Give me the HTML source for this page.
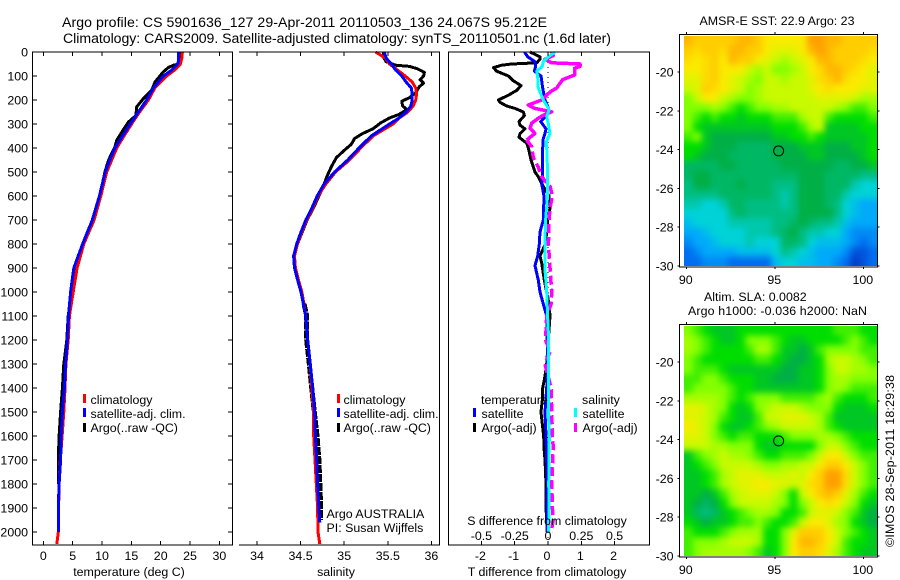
<!DOCTYPE html>
<html lang="en">
<head>
<meta charset="utf-8">
<title>Argo profile</title>
<style>
html,body{margin:0;padding:0;background:#fff;width:900px;height:580px;overflow:hidden}
svg{display:block}
text{font-family:"Liberation Sans",sans-serif;font-size:12.4px;fill:#000}
.frame{fill:none;stroke:#000;stroke-width:1.4;shape-rendering:crispEdges}
</style>
</head>
<body>
<svg id="chart" width="900" height="580" viewBox="0 0 900 580" xmlns="http://www.w3.org/2000/svg">
  <defs>
    <filter id="map-smooth" filterUnits="userSpaceOnUse" x="660" y="0" width="240" height="580" color-interpolation-filters="sRGB">
      <feGaussianBlur stdDeviation="3.2"/>
    </filter>
    <clipPath id="sst-clip"><rect x="684" y="36" width="193" height="230"/></clipPath>
    <clipPath id="sla-clip"><rect x="684" y="326" width="193" height="230"/></clipPath>
  </defs>
  <rect width="900" height="580" fill="#fff"/>
  <text x="62" y="27" textLength="485" style="font-size:14.1px">Argo profile: CS 5901636_127 29-Apr-2011 20110503_136 24.067S 95.212E</text>
  <text x="63" y="43" textLength="548" style="font-size:14.1px">Climatology: CARS2009. Satellite-adjusted climatology: synTS_20110501.nc (1.6d later)</text>
  <g id="maps"></g>
  <g id="marks"></g>
  <g id="axes"></g>

  <text x="129" y="576" text-anchor="middle">temperature (deg C)</text>
  <text x="336" y="576" text-anchor="middle">salinity</text>
  <text x="547" y="525" text-anchor="middle">S difference from climatology</text>
  <text x="547" y="576" text-anchor="middle">T difference from climatology</text>

  <g>
    <rect x="83" y="394" width="3" height="9" fill="#f00"/>
    <text x="90.5" y="404">climatology</text>
    <rect x="83" y="408" width="3" height="9" fill="#00f"/>
    <text x="90.5" y="418">satellite-adj. clim.</text>
    <rect x="83" y="423" width="3" height="9" fill="#000"/>
    <text x="90.5" y="432">Argo(..raw -QC)</text>
  </g>
  <g>
    <rect x="337" y="394" width="3" height="9" fill="#f00"/>
    <text x="343.5" y="404">climatology</text>
    <rect x="337" y="408" width="3" height="9" fill="#00f"/>
    <text x="343.5" y="418">satellite-adj. clim.</text>
    <rect x="337" y="423" width="3" height="9" fill="#000"/>
    <text x="343.5" y="432">Argo(..raw -QC)</text>
  </g>
  <text x="326.5" y="518">Argo AUSTRALIA</text>
  <text x="326.5" y="532">PI: Susan Wijffels</text>

  <g>
    <text x="481" y="404">temperature</text>
    <rect x="473" y="408" width="3" height="9" fill="#00f"/>
    <text x="481.5" y="418">satellite</text>
    <rect x="473" y="423" width="3" height="9" fill="#000"/>
    <text x="481.5" y="432">Argo(-adj)</text>
    <text x="582" y="404">salinity</text>
    <rect x="574" y="408" width="3" height="9" fill="#0ff"/>
    <text x="582.5" y="418">satellite</text>
    <rect x="574" y="423" width="3" height="9" fill="#f0f"/>
    <text x="582.5" y="432">Argo(-adj)</text>
  </g>

  <text x="777" y="25" text-anchor="middle">AMSR-E SST: 22.9 Argo: 23</text>
  <text x="704" y="301">Altim. SLA: 0.0082</text>
  <text x="688" y="315" textLength="179">Argo h1000: -0.036 h2000: NaN</text>
  <text transform="translate(894,547) rotate(-90)" textLength="172">©IMOS 28-Sep-2011 18:29:38</text>
</svg>
<script>
// ---------- axis ticks ----------
const depthTicks = [0,100,200,300,400,500,600,700,800,900,1000,1100,1200,1300,1400,1500,1600,1700,1800,1900,2000];
const tempTicks = [0,5,10,15,20,25,30];
const salTicks = [34,34.5,35,35.5,36];
const salTickLabels = ['34','34.5','35','35.5','36'];
const tDiffTicks = [-2,-1,0,1,2];
const sDiffTicks = [-0.5,-0.25,0,0.25,0.5];
const sDiffTickLabels = ['-0.5','-0.25','0','0.25','0.5'];
const lonTicks = [90,95,100];
const latTicks = [-20,-22,-24,-26,-28,-30];

// ---------- temperature profiles (depth m, deg C) ----------
const tempClimDepth = [0,25,50,75,100,150,200,250,300,350,400,450,500,600,700,800,900,1000,1100,1200,1300,1400,1500,1600,1700,1800,1900,2000,2050];
const tempClim = [23.7,23.6,23.35,22.4,21,19,17.9,16.4,15.05,13.75,12.5,11.65,10.8,9.8,8.65,6.9,5.75,5.1,4.45,4.25,3.85,3.7,3.5,3.2,2.9,2.7,2.6,2.55,2.3];
const tempSatDepth = [0,25,40,50,75,100,150,200,250,300,350,400,450,500,600,700,800,900,1000,1100,1200,1300,1400,1500,1600,1700,1800,1900,2000];
const tempSat = [23.05,23.05,23,22.9,21.9,20.45,18.75,17.6,16.2,14.8,13.5,12.2,11.35,10.55,9.55,8.35,6.7,5.2,4.65,4.3,4.1,3.8,3.6,3.25,3.05,2.95,2.7,2.55,2.55];
const tempArgoDepth = [0,25,50,55,65,83,125,160,194,229,264,292,319,368,396,451,500,600,700,800,900,1000,1100,1200,1300,1400,1500,1600,1700,1800];
const tempArgo = [23.3,23.3,23.2,22.15,21.3,20.45,19.03,18.47,17.05,15.9,15.8,14.5,13.75,12.5,12.2,11.1,10.5,9.65,8.5,6.8,5.4,4.8,4.25,4,3.5,3.25,2.95,2.7,2.55,2.55];

// ---------- salinity profiles (depth m, psu) ----------
const salClimDepth = [0,25,50,75,100,125,150,175,200,225,250,275,300,350,400,450,500,550,600,650,700,750,800,850,900,950,1000,1100,1200,1300,1400,1500,1600,1700,1800,1900,2000,2050];
const salClim = [35.36,35.47,35.52,35.61,35.7,35.78,35.82,35.83,35.82,35.79,35.73,35.63,35.56,35.33,35.19,35.06,34.9,34.79,34.7,34.64,34.57,34.515,34.465,34.43,34.44,34.475,34.515,34.56,34.58,34.61,34.63,34.65,34.65,34.665,34.68,34.695,34.7,34.72];
const salSatDepth = [0,25,50,75,100,125,150,175,200,225,250,275,300,350,400,450,500,550,600,650,700,750,800,850,900,950,1000,1100,1200,1300,1400,1500,1600,1700,1800,1900,1960];
const salSat = [35.46,35.48,35.54,35.59,35.66,35.71,35.77,35.78,35.78,35.765,35.71,35.63,35.52,35.31,35.17,35.04,34.89,34.77,34.69,34.63,34.56,34.505,34.455,34.42,34.43,34.466,34.505,34.56,34.58,34.61,34.64,34.66,34.67,34.685,34.695,34.71,34.72];
const salArgoDepth = [0,25,40,55,60,70,85,100,115,130,145,170,190,205,225,240,260,275,295,320,340,360,385,410,440,480,520,560,600,640,700,750,800,850,900,950,1000,1050,1100,1200,1300,1400,1500,1600,1700,1800,1900,1950];
const salArgo = [35.45,35.455,35.48,35.59,35.75,35.84,35.92,35.91,35.87,35.91,35.86,35.82,35.75,35.66,35.67,35.72,35.63,35.52,35.42,35.33,35.21,35.12,35.08,35,34.91,34.85,34.8,34.76,34.71,34.66,34.575,34.52,34.465,34.43,34.44,34.47,34.51,34.54,34.57,34.57,34.6,34.627,34.657,34.688,34.71,34.72,34.73,34.73];

// ---------- difference profiles ----------
const tDiffArgoDepth = [0,20,30,45,50,55,65,80,100,120,140,160,180,200,210,225,235,250,265,290,305,320,340,355,380,400,450,500,520,560,600,650,700,750,800,850,880,950,1050,1100,1200,1300,1350,1400,1450,1500,1550,1600,1650,1700,1800,1900,1950];
const tDiffArgo = [-0.54,-0.24,-0.24,-0.34,-1.09,-1.39,-1.64,-1.54,-1.19,-1.04,-0.81,-0.94,-1.19,-1.49,-1.44,-1.24,-0.99,-0.74,-0.71,-0.87,-0.84,-0.69,-0.84,-0.87,-0.64,-0.59,-0.51,-0.39,-0.29,-0.14,0.03,0.06,-0.01,-0.04,-0.08,-0.24,-0.19,-0.11,0.03,0.06,0.01,-0.04,-0.09,-0.16,-0.17,-0.21,-0.17,-0.13,-0.12,-0.09,-0.06,-0.06,-0.04];
const tDiffSatDepth = [0,20,40,60,80,100,150,200,240,270,290,320,340,360,400,500,550,600,700,750,800,850,890,950,1000,1050,1100,1300,1400,1500,1600,1700,1800,1900,2000];
const tDiffSat = [-0.71,-0.61,-0.39,-0.37,-0.41,-0.21,-0.16,-0.09,0.03,-0.09,-0.22,-0.06,-0.09,-0.14,-0.16,-0.16,-0.19,-0.12,-0.14,-0.24,-0.26,-0.31,-0.39,-0.29,-0.24,-0.14,-0.04,-0.01,-0.04,-0.09,-0.06,-0.04,-0.02,-0.03,-0.03];
const sDiffSatDepth = [0,20,40,60,80,100,150,200,240,270,300,340,370,400,500,600,700,800,900,1000,1100,1200,1300,1400,1500,1600,1700,1800,1900,2000];
const sDiffSat = [0.053,0.003,-0.035,-0.043,-0.085,-0.078,-0.073,-0.035,0.008,-0.01,0.003,0.015,-0.01,-0.01,-0.003,-0.003,-0.018,-0.023,-0.023,-0.01,-0.003,0.005,0.003,0.003,0.003,0.01,0.008,0.005,0.008,0.003];
const sDiffArgoDepth = [0,15,30,45,50,60,68,96,115,130,150,165,179,200,215,221,235,249,262,276,297,318,339,367,394,440,480,520,560,600,650,700,800,900,1000,1050,1100,1200,1250,1300,1400,1500,1600,1650,1700,1800,1900,1950,2000];
const sDiffArgo = [0.028,0.04,-0.023,0.028,0.24,0.24,0.2,0.2,0.11,0.09,0.065,0.02,-0.01,-0.048,-0.12,-0.148,-0.1,0.028,-0.03,-0.073,-0.123,-0.135,-0.098,-0.16,-0.123,-0.11,-0.073,-0.048,0.015,0.033,0.015,0.008,0.003,0.015,0.028,0.023,-0.01,-0.018,0.015,-0.023,0.023,0.028,0.033,0.04,0.035,0.028,0.033,0.04,0.023];

// ---------- map fields (colour-scale level, north to south) ----------
const sstField = [
[10.5,10,10,10,10,10,10.5,10.5,10,9,9,9,9,9,11,11,10.5,10.5,10,10,10,10],
[10,9.5,10,10,9.5,10.5,10.5,10,10,9,8.5,8.5,8.5,9,10.5,11,10.5,10,10,10,10,9.5],
[9.5,9,9.5,10,9,10.5,10,10,9,8.5,8,7.5,8,8.5,9,10.5,10.5,10,10,10,9.5,9],
[9,9,9.5,10,9,9,9,8,7.5,8,7,7,7.5,8,9,9.5,10.5,10.5,10,9.5,9,8.5],
[8.5,8.5,9.5,10,9,8.5,8,7.5,7,8,8,7.5,8,8,8.5,9.5,10,10.5,9.5,9,9,8.5],
[8,8.5,10,9.5,9,8.5,8,7,7.5,8,8,8,8,8,8.5,9,9.5,9,9,9,8.5,8.5],
[7,8,9,9,8,7.5,7,7,7.5,8,8,8,8,8,8,8.5,8.5,8.5,8.5,8,7.5,7.5],
[7,7,7,7.5,7,6.5,6,6.5,7,7,7.5,7.5,8,8,8,8,8,7.5,7,6.5,6.5,7],
[7,6.5,6,6.5,6,6,5.5,6,6,6,6.5,6.5,6.5,7.5,8,8,6.5,6,6,6,6,6.5],
[7,6,5.5,5.5,5.5,5.5,5.5,5.5,5.5,5.5,6,6,6,6.5,7.5,8,5.5,5.5,5.5,5.5,6,6],
[6.5,7,5.5,5,5,5,5,5,5,5,5.5,5.5,6,6,6.5,6,5.5,5.5,5.5,5.5,5.5,6],
[6,6,5.5,5,5,5,4.5,4.5,4.5,4.5,5,5,5,5.5,5.5,5.5,5,5,5,5.5,5.5,6],
[6,5.5,5,5,5,4.5,4.5,4.5,4.5,4.5,5,5,5,5,5.5,5.5,5,5,5,5,5.5,6],
[4.5,4.5,4.5,4.5,5,5,4.5,4.5,4.5,4.5,4.5,5,5,5,5,5,5,4.5,4.5,5,5,5.5],
[4.5,5,5,4.5,4.5,4.5,4.5,4.5,4.5,4.5,4.5,4.5,4.5,5,5,5,4.5,4.5,4.5,4.5,4,4],
[4,5,5,4.5,4.5,4.5,5,4.5,4.5,4.5,4,4,4,5,5,5,4.5,4.5,4.5,3.5,3,3],
[4,4,4,4,4.5,4.5,4.5,4.5,4.5,4.5,4,3.5,4,5,5,5,4.5,4.5,3.5,3,3,3],
[3.5,3.5,3,3,3.5,4.5,4.5,4,4,4,4,3.5,4,5,5,5,4.5,4,3,2.5,2,2],
[3,3,3,3,3,4,4.5,4,4,4,4,4,4,5,5,5,5,4,3,2.5,2,2],
[2.5,3,3,3,3,3.5,3.5,3.5,3.5,3.5,4,4,4.5,5,4.5,4,4,3.5,2.5,2,2,2],
[2,2,2.5,3,3,3,3,3.5,3.5,3.5,4,4.5,5,4,3.5,3.5,3,3,2,1.5,1.5,1.5],
[1.5,2,2,2.5,3,3,3,3.5,3,3,3,4.5,4.5,4,3,2.5,2.5,2.5,2,1.5,1,1.5],
[1,1.5,2,2,2,2,2.5,2.5,2.5,2.5,3,4,3.5,3,2.5,2,2,2,1.5,0.5,0.5,1],
[1,1,1.5,1.5,1.5,1,1,1,1,1,2.5,3,3,2.5,2.5,2,2,1.5,1,0,0.5,1]
];
const slaField = [
[7,6.5,6,5.5,5.5,5.5,6,6,6,6,6,6,6,6,6,6,6,6.5,6.5,6.5,6,6],
[7.5,7,6.5,6,5.5,5.5,6,7,7,7,6.5,6,5.5,5.5,6,6,6,6,6.5,7,6.5,6],
[7.5,7,6.5,6,6,6,6,6.5,7.5,7.5,6.5,5.5,5.5,5,5.5,6.5,7,7,7,7,6.5,6.5],
[7,6.5,6,6,6,6,6,6,6.5,6.5,6,5.5,5,5,5.5,6,7.5,8,8,7.5,7,6.5],
[7,6.5,6.5,6.5,6,5.5,5.5,5.5,5.5,5.5,5.5,5,5,5.5,5.5,6,7,8,8,7.5,7.5,7],
[6.5,6.5,7,7,6.5,6,6,6,5.5,5.5,5,5,5,5.5,5.5,6,7,7.5,7.5,7,7,7],
[6.5,7,7,7,7,6.5,6,6,5.5,5.5,5.5,5.5,5.5,5.5,5.5,6,7,7.5,7,6.5,6.5,6.5],
[7.5,7.5,7.5,7.5,7,6.5,6,6.5,7,7,7,6.5,6.5,6.5,6.5,7,7.5,6.5,6,6,6,6.5],
[8.5,8.5,8,7.5,7,6,5.5,6,7,7.5,8,8,8,7.5,7,7,7,6,5.5,5.5,5.5,6],
[8.5,8.5,8,7.5,6.5,6,5.5,5.5,6.5,8,8,8.5,8.5,8.5,8,7.5,6.5,5.5,5.5,5.5,5.5,5.5],
[9,8.5,8,7,6,5.5,5.5,6,6.5,7,7.5,8,8,8,8,7.5,6.5,6,5.5,5.5,5.5,5.5],
[8.5,8.5,8,7,6.5,6,6.5,6.5,6,6,6,6.5,7,7,7,7.5,7.5,7,6.5,6,6,6],
[8,8,8,7.5,7.5,7,7,7,6,5.5,5.5,6,6,6,6,7,8,8,7,6.5,6,6],
[5.5,6.5,7,7.5,8,7.5,7.5,7,6.5,6,6,6.5,6.5,6.5,7,8,9,9,8,7,6.5,6.5],
[5.5,6,6.5,7,8,8,8,8,7.5,7,7,7.5,7.5,8,8,9,10,10,9,8,7,6.5],
[5.5,5.5,6,6.5,7.5,8,8.5,8.5,8.5,8,8,8,8.5,8,9,10,11,11,9.5,8,7,6.5],
[5.5,5.5,6,6.5,7.5,8,8.5,8.5,9,9,8.5,8.5,8,8.5,9.5,10,11,11,9.5,8,7,6.5],
[5.5,5.5,5,5.5,6.5,7.5,8,8.5,8.5,8.5,8,7,6,8,9,10,10.5,10,8.5,7.5,6.5,6],
[5.5,5,4.5,5,6,7,8,8,8,8,7.5,7,6,7,8,9,9.5,9,8,7,6,5.5],
[5.5,4.5,4,4.5,5.5,6,6.5,7,7.5,7.5,7,6,6,6.5,8,8.5,8.5,8,7,6.5,5.5,5],
[6,5.5,5,5.5,5.5,6,6.5,6.5,7,6.5,6,6,6.5,8,9,9,8.5,7.5,7,6,5.5,5],
[6.5,6,6,6,6.5,7,7.5,7.5,7.5,6,6,7,8.5,10,10,10,9,8,7,6.5,6,5.5],
[6.5,7,7,7,7.5,8,8,8,7.5,6,6,7,9,10.5,10.5,10,9,8,6.5,6,6,5.5],
[6.5,7,7.5,7.5,7.5,7.5,7.5,7,6.5,5.5,6,7,9,10,10,9.5,8.5,7.5,6.5,6,5.5,5.5]
];
const argoLon = 95.212;
const argoLat = -24.067;

// ---------- helpers ----------
const NS = 'http://www.w3.org/2000/svg';
const marks = document.getElementById('marks');
const axes = document.getElementById('axes');
const maps = document.getElementById('maps');
function make(tag, parent, attrs, content) {
  const el = document.createElementNS(NS, tag);
  for (const k in attrs) el.setAttribute(k, attrs[k]);
  if (content !== undefined) el.textContent = content;
  parent.appendChild(el);
  return el;
}
const yDepth = d => 52 + d * 0.24;
const xTemp = t => 43.3 + t * 5.87;
const xSal = s => 257 + (s - 34) * 87.2;
const xTDiff = t => 548 + t * 33.3;
const xSDiff = s => 548 + s * 133.2;

function profile(xFn, depth, vals, color, width, name, dash, minD, maxD) {
  const pts = [];
  for (let i = 0; i < depth.length; i++) {
    if (depth[i] < minD || depth[i] > maxD) continue;
    pts.push(xFn(vals[i]).toFixed(1) + ',' + yDepth(depth[i]).toFixed(1));
  }
  const el = make('polyline', marks, {
    points: pts.join(' '), fill: 'none', stroke: color, 'stroke-width': width,
    'stroke-linejoin': 'round', 'shape-rendering': 'crispEdges'
  });
  if (dash) el.setAttribute('stroke-dasharray', dash);
  
  
}

// temperature panel
profile(xTemp, tempArgoDepth, tempArgo, '#000', 3, 'temperature-argo-line', null, 0, 9999);
profile(xTemp, tempClimDepth, tempClim, '#f00', 3, 'temperature-climatology-line', null, 0, 9999);
profile(xTemp, tempSatDepth, tempSat, '#00f', 3, 'temperature-satellite-line', null, 0, 9999);
// salinity panel
profile(xSal, salArgoDepth, salArgo, '#000', 3, 'salinity-argo-line', null, 0, 1050);
profile(xSal, salArgoDepth, salArgo, '#000', 5, 'salinity-argo-line-deep', '8 1', 1050, 9999);
profile(xSal, salClimDepth, salClim, '#f00', 3, 'salinity-climatology-line', null, 0, 9999);
profile(xSal, salSatDepth, salSat, '#00f', 3, 'salinity-satellite-line', null, 0, 9999);
// difference panel
const zero = make('line', marks, {x1: xTDiff(0), x2: xTDiff(0), y1: 52, y2: 545, stroke: '#000', 'stroke-width': 1, 'stroke-dasharray': '1 4', 'shape-rendering': 'crispEdges'});


profile(xTDiff, tDiffArgoDepth, tDiffArgo, '#000', 3, 't-difference-argo-line', null, 0, 9999);
profile(xTDiff, tDiffSatDepth, tDiffSat, '#00f', 3, 't-difference-satellite-line', null, 0, 9999);
profile(xSDiff, sDiffArgoDepth, sDiffArgo, '#f0f', 3.5, 's-difference-argo-line', null, 0, 367);
profile(xSDiff, sDiffArgoDepth, sDiffArgo, '#f0f', 3.5, 's-difference-argo-line-deep', '9 4', 367, 9999);
profile(xSDiff, sDiffSatDepth, sDiffSat, '#0ff', 3, 's-difference-satellite-line', null, 0, 9999);

// panel frames
function frame(x1, x2, left, name) {
  const d = left ? `M${x1} 52V545H${x2}V52H${x1}Z` : `M${x1} 52H${x2}V545H${x1}`;
  const el = make('path', axes, {d: d, class: 'frame'});
  
  
}
frame(32.5, 232.5, true, 'temperature-panel-frame');
frame(239, 439.5, false, 'salinity-panel-frame');
frame(448.5, 649.5, true, 'difference-panel-frame');

function tick(x1, y1, x2, y2, name) {
  const el = make('line', axes, {x1: x1, y1: y1, x2: x2, y2: y2, stroke: '#000', 'stroke-width': 1, 'shape-rendering': 'crispEdges'});
  
  
}
function label(x, y, anchor, str, name) {
  const el = make('text', axes, {x: x, y: y, 'text-anchor': anchor}, str);
  
  
}

// depth axis
depthTicks.forEach(d => {
  const y = yDepth(d);
  tick(32.5, y, 37, y, 'depth-tick');
  tick(228, y, 232.5, y, 'depth-tick-right');
  label(28, y + 4.5, 'end', String(d), 'depth-tick-label');
});
// temperature axis
tempTicks.forEach(t => {
  const x = xTemp(t);
  tick(x, 52, x, 56, 'temperature-tick-top');
  tick(x, 541, x, 545, 'temperature-tick-bottom');
  label(x, 560, 'middle', String(t), 'temperature-tick-label');
});
// salinity axis
salTicks.forEach((s, i) => {
  const x = xSal(s);
  tick(x, 52, x, 56, 'salinity-tick-top');
  tick(x, 541, x, 545, 'salinity-tick-bottom');
  label(x, 560, 'middle', salTickLabels[i], 'salinity-tick-label');
});
// difference axes
tDiffTicks.forEach(t => {
  const x = xTDiff(t);
  tick(x, 52, x, 56, 'difference-tick-top');
  tick(x, 541, x, 545, 'difference-tick-bottom');
  label(x - 1, 560, 'middle', String(t), 't-difference-tick-label');
});
sDiffTicks.forEach((s, i) => {
  label(xSDiff(s), 540, 'middle', sDiffTickLabels[i], 's-difference-tick-label');
});

// ---------- maps ----------
const colourLevels = [[0,60,200],[0,110,240],[0,170,250],[0,210,215],[0,190,130],[0,175,70],[0,222,0],[130,255,0],[200,250,0],[250,235,0],[255,205,0],[255,160,0]];
function levelColour(v) {
  const i = Math.max(0, Math.min(colourLevels.length - 2, Math.floor(v)));
  const f = v - i;
  const c = colourLevels[i].map((a, k) => Math.round(a + (colourLevels[i + 1][k] - a) * f));
  return `rgb(${c[0]},${c[1]},${c[2]})`;
}
const lonMin = 89.87, lonMax = 100.77, latMax = -18.14, latMin = -30;
function drawMap(field, top, prefix, clipId) {
  const xLon = lon => 686.3 + (lon - 90) * 17.7;
  const yLat = lat => top + 38 + (-20 - lat) * 19.4;
  const rows = field.length, cols = field[0].length;
  const dLon = (lonMax - lonMin) / cols, dLat = (latMax - latMin) / rows;
  const clipGroup = make('g', maps, {'clip-path': 'url(#' + clipId + ')'});
  
  
  const blurGroup = make('g', clipGroup, {filter: 'url(#map-smooth)'});
  
  
  const bleed = 10;
  field.forEach((row, r) => row.forEach((v, c) => {
    let x0 = xLon(lonMin + c * dLon), y0 = yLat(latMax - r * dLat);
    let w = dLon * 17.7 + 0.4, h = dLat * 19.4 + 0.4;
    if (c === 0) { x0 -= bleed; w += bleed; }
    if (c === cols - 1) { w += bleed; }
    if (r === 0) { y0 -= bleed; h += bleed; }
    if (r === rows - 1) { h += bleed; }
    const cell = make('rect', blurGroup, {x: x0.toFixed(2), y: y0.toFixed(2), width: w.toFixed(2), height: h.toFixed(2), fill: levelColour(v), 'shape-rendering': 'crispEdges'});
    
    
  }));
  const box = make('rect', axes, {x: 679.5, y: top + 0.5, width: 198, height: 232.5, class: 'frame'});
  
  
  lonTicks.forEach(l => {
    const x = xLon(l);
    tick(x, top - 2, x, top, prefix + '-lon-tick-top');
    tick(x, top + 233, x, top + 235, prefix + '-lon-tick-bottom');
    label(x - 0.5, top + 250, 'middle', String(l), prefix + '-lon-tick-label');
  });
  latTicks.forEach(l => {
    const y = yLat(l);
    tick(677.5, y, 679.5, y, prefix + '-lat-tick-left');
    tick(877.5, y, 879.5, y, prefix + '-lat-tick-right');
    label(673.5, y + 4.5, 'end', String(l), prefix + '-lat-tick-label');
  });
  const ring = make('circle', axes, {cx: xLon(argoLon).toFixed(1), cy: yLat(argoLat).toFixed(1), r: 5, fill: 'none', stroke: '#000', 'stroke-width': 1});
  
  
}
drawMap(sstField, 34, 'sst-map', 'sst-clip');
drawMap(slaField, 324, 'sla-map', 'sla-clip');
</script>
</body>
</html>
